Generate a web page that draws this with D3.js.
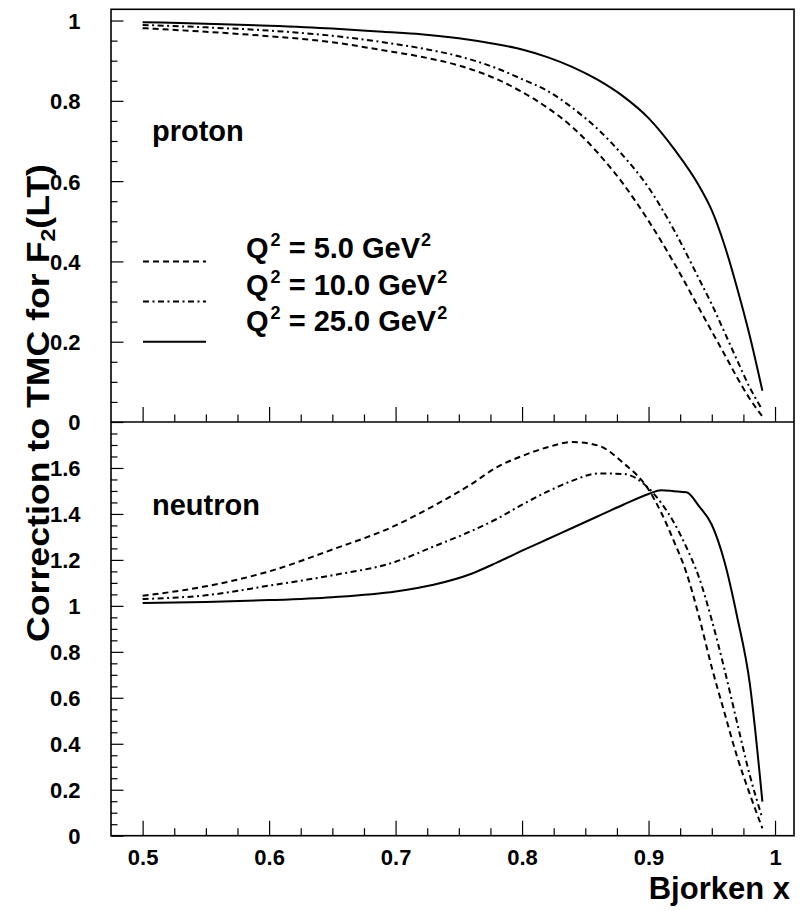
<!DOCTYPE html>
<html>
<head>
<meta charset="utf-8">
<script src="https://cdn.jsdelivr.net/npm/d3@7"></script>
<style>
  html, body { margin: 0; padding: 0; background: #fff; }
  svg { display: block; }
  text { font-family: "Liberation Sans", Arial, Helvetica, sans-serif; font-weight: bold; fill: #000; }
</style>
</head>
<body>
<svg id="chart" width="803" height="911"></svg>
<script>
// ---------------- data ----------------
const xGridProton = [0.50, 0.55, 0.60, 0.65, 0.69, 0.72, 0.75, 0.78, 0.80, 0.82, 0.84, 0.86, 0.88, 0.90, 0.92, 0.94, 0.95, 0.96, 0.97, 0.98, 0.99];
const protonQ5  = [0.981, 0.972, 0.961, 0.946, 0.926, 0.910, 0.888, 0.854, 0.822, 0.783, 0.734, 0.670, 0.593, 0.501, 0.397, 0.283, 0.226, 0.169, 0.111, 0.058, 0.014];
const protonQ10 = [0.989, 0.983, 0.975, 0.962, 0.946, 0.931, 0.911, 0.881, 0.854, 0.825, 0.782, 0.729, 0.663, 0.584, 0.479, 0.356, 0.293, 0.224, 0.154, 0.086, 0.030];
const protonQ25 = [0.996, 0.992, 0.987, 0.980, 0.972, 0.966, 0.956, 0.941, 0.928, 0.909, 0.884, 0.852, 0.811, 0.757, 0.681, 0.588, 0.527, 0.441, 0.334, 0.215, 0.078];

const xGridNeutron = [0.50, 0.55, 0.60, 0.65, 0.70, 0.73, 0.76, 0.78, 0.80, 0.82, 0.84, 0.86, 0.88, 0.90, 0.91, 0.92, 0.93, 0.94, 0.95, 0.96, 0.97, 0.98, 0.99];
const neutronQ5  = [1.044, 1.085, 1.150, 1.245, 1.350, 1.435, 1.530, 1.603, 1.652, 1.690, 1.713, 1.698, 1.622, 1.506, 1.406, 1.282, 1.143, 0.951, 0.732, 0.536, 0.344, 0.182, 0.032];
const neutronQ10 = [1.030, 1.046, 1.088, 1.133, 1.192, 1.258, 1.326, 1.378, 1.440, 1.497, 1.545, 1.576, 1.574, 1.512, 1.448, 1.363, 1.254, 1.122, 0.938, 0.724, 0.492, 0.264, 0.076];
const neutronQ25 = [1.012, 1.017, 1.025, 1.038, 1.063, 1.092, 1.140, 1.188, 1.240, 1.290, 1.340, 1.390, 1.440, 1.487, 1.503, 1.499, 1.494, 1.433, 1.353, 1.193, 0.954, 0.664, 0.148];

const seriesNames = ["Q5", "Q10", "Q25"];
const legendQ2 = ["5.0", "10.0", "25.0"];
const xTickValues = [0.5, 0.6, 0.7, 0.8, 0.9, 1.0];
const protonTickValues = [0, 0.2, 0.4, 0.6, 0.8, 1.0];
const neutronTickValues = [0, 0.2, 0.4, 0.6, 0.8, 1.0, 1.2, 1.4, 1.6];

// ---------------- layout ----------------
const svg = d3.select("#chart");
const L = 111, R = 794, T = 9.3, MID = 422, B = 835.7;
const x = d3.scaleLinear().domain([0.475, 1.015]).range([L, R]);
const yTop = d3.scaleLinear().domain([0, 1.028]).range([MID, T]);
const yBot = d3.scaleLinear().domain([0, 1.8]).range([B, MID]);

const styles = {
  Q5:  { dash: "6,4" },
  Q10: { dash: "6,3.5,2,3.5" },
  Q25: { dash: null }
};

const fmt = d => String(+d.toFixed(1));

svg.append("rect").attr("width", 803).attr("height", 911).attr("fill", "#fff");

function drawYAxis(scale, majors, nMinor) {
  const minors = d3.range(0, nMinor + 1).map(i => +(i * 0.05).toFixed(2)).filter(v => Math.round(v * 100) % 20 !== 0);
  const gMin = svg.append("g").attr("transform", `translate(${L},0)`)
    .call(d3.axisLeft(scale).tickValues(minors).tickSize(-6.5).tickFormat(""));
  gMin.select(".domain").remove();
  gMin.selectAll("line").attr("stroke", "#000").attr("stroke-width", 1.2);
  const gMaj = svg.append("g").attr("transform", `translate(${L},0)`)
    .call(d3.axisLeft(scale).tickValues(majors).tickSize(-12.5).tickPadding(18 + 12.5).tickFormat(fmt));
  gMaj.select(".domain").remove();
  gMaj.selectAll("line").attr("stroke", "#000").attr("stroke-width", 1.2);
  gMaj.selectAll("text").attr("font-size", 22).attr("font-family", null).attr("dy", "0.36em");
}

function drawXTicks(yPos, withLabels) {
  const minors = d3.range(20, 41).filter(i => i % 4 !== 0).map(i => i * 0.025);
  const gMin = svg.append("g").attr("transform", `translate(0,${yPos})`)
    .call(d3.axisBottom(x).tickValues(minors).tickSize(-7.5).tickFormat(""));
  gMin.select(".domain").remove();
  gMin.selectAll("line").attr("stroke", "#000").attr("stroke-width", 1.2);
  const gMaj = svg.append("g").attr("transform", `translate(0,${yPos})`)
    .call(d3.axisBottom(x).tickValues(xTickValues).tickSize(-15).tickPadding(15 + 14)
      .tickFormat(withLabels ? fmt : ""));
  gMaj.select(".domain").remove();
  gMaj.selectAll("line").attr("stroke", "#000").attr("stroke-width", 1.2);
  gMaj.selectAll("text").attr("font-size", 22).attr("font-family", null).attr("dy", "0");
}

drawYAxis(yTop, protonTickValues, 20);
drawYAxis(yBot, neutronTickValues, 36);
drawXTicks(MID, false);
drawXTicks(B, true);

// frame
svg.append("rect").attr("x", L).attr("y", T).attr("width", R - L).attr("height", B - T)
  .attr("fill", "none").attr("stroke", "#000").attr("stroke-width", 1.6);
svg.append("line").attr("x1", L).attr("x2", R).attr("y1", MID).attr("y2", MID)
  .attr("stroke", "#000").attr("stroke-width", 1.6);

// curves
function drawCurves(xs, seriesArr, yScale) {
  const line = d3.line().x(d => x(d[0])).y(d => yScale(d[1])).curve(d3.curveMonotoneX);
  seriesArr.forEach((vals, i) => {
    const pts = xs.map((xv, j) => [xv, vals[j]]);
    const st = styles[seriesNames[i]];
    svg.append("path").datum(pts).attr("d", line)
      .attr("fill", "none").attr("stroke", "#000").attr("stroke-width", 2)
      .attr("stroke-linejoin", "round")
      .attr("stroke-dasharray", st.dash);
  });
}
drawCurves(xGridProton, [protonQ5, protonQ10, protonQ25], yTop);
drawCurves(xGridNeutron, [neutronQ5, neutronQ10, neutronQ25], yBot);

// panel labels
svg.append("text").attr("x", 152).attr("y", 141).attr("font-size", 29).text("proton");
svg.append("text").attr("x", 152).attr("y", 515).attr("font-size", 29).text("neutron");

// legend
const legLineY = [yTop(0.4), yTop(0.3), yTop(0.2)];
const legTextY = [258, 294.5, 331];
seriesNames.forEach((s, i) => {
  svg.append("line").attr("x1", 143).attr("x2", 206)
    .attr("y1", legLineY[i]).attr("y2", legLineY[i])
    .attr("stroke", "#000").attr("stroke-width", 2)
    .attr("stroke-dasharray", styles[s].dash);
  const t = svg.append("text").attr("x", 246).attr("y", legTextY[i]).attr("font-size", 29);
  t.append("tspan").text("Q");
  t.append("tspan").attr("font-size", 18).attr("dy", -12).attr("dx", 2).text("2");
  t.append("tspan").attr("dy", 12).text(` = ${legendQ2[i]} GeV`);
  t.append("tspan").attr("font-size", 18).attr("dy", -12).attr("dx", 1).text("2");
});

// axis titles
svg.append("text").attr("x", 790).attr("y", 899).attr("text-anchor", "end")
  .attr("font-size", 31).text("Bjorken x");

const yt = svg.append("text")
  .attr("transform", "translate(49,403) rotate(-90)")
  .attr("text-anchor", "middle").attr("font-size", 31)
  .attr("textLength", 478).attr("lengthAdjust", "spacingAndGlyphs");
yt.append("tspan").text("Correction to TMC for F");
yt.append("tspan").attr("font-size", 20).attr("dy", 6).text("2");
yt.append("tspan").attr("dy", -6).text("(LT)");
</script>
</body>
</html>
